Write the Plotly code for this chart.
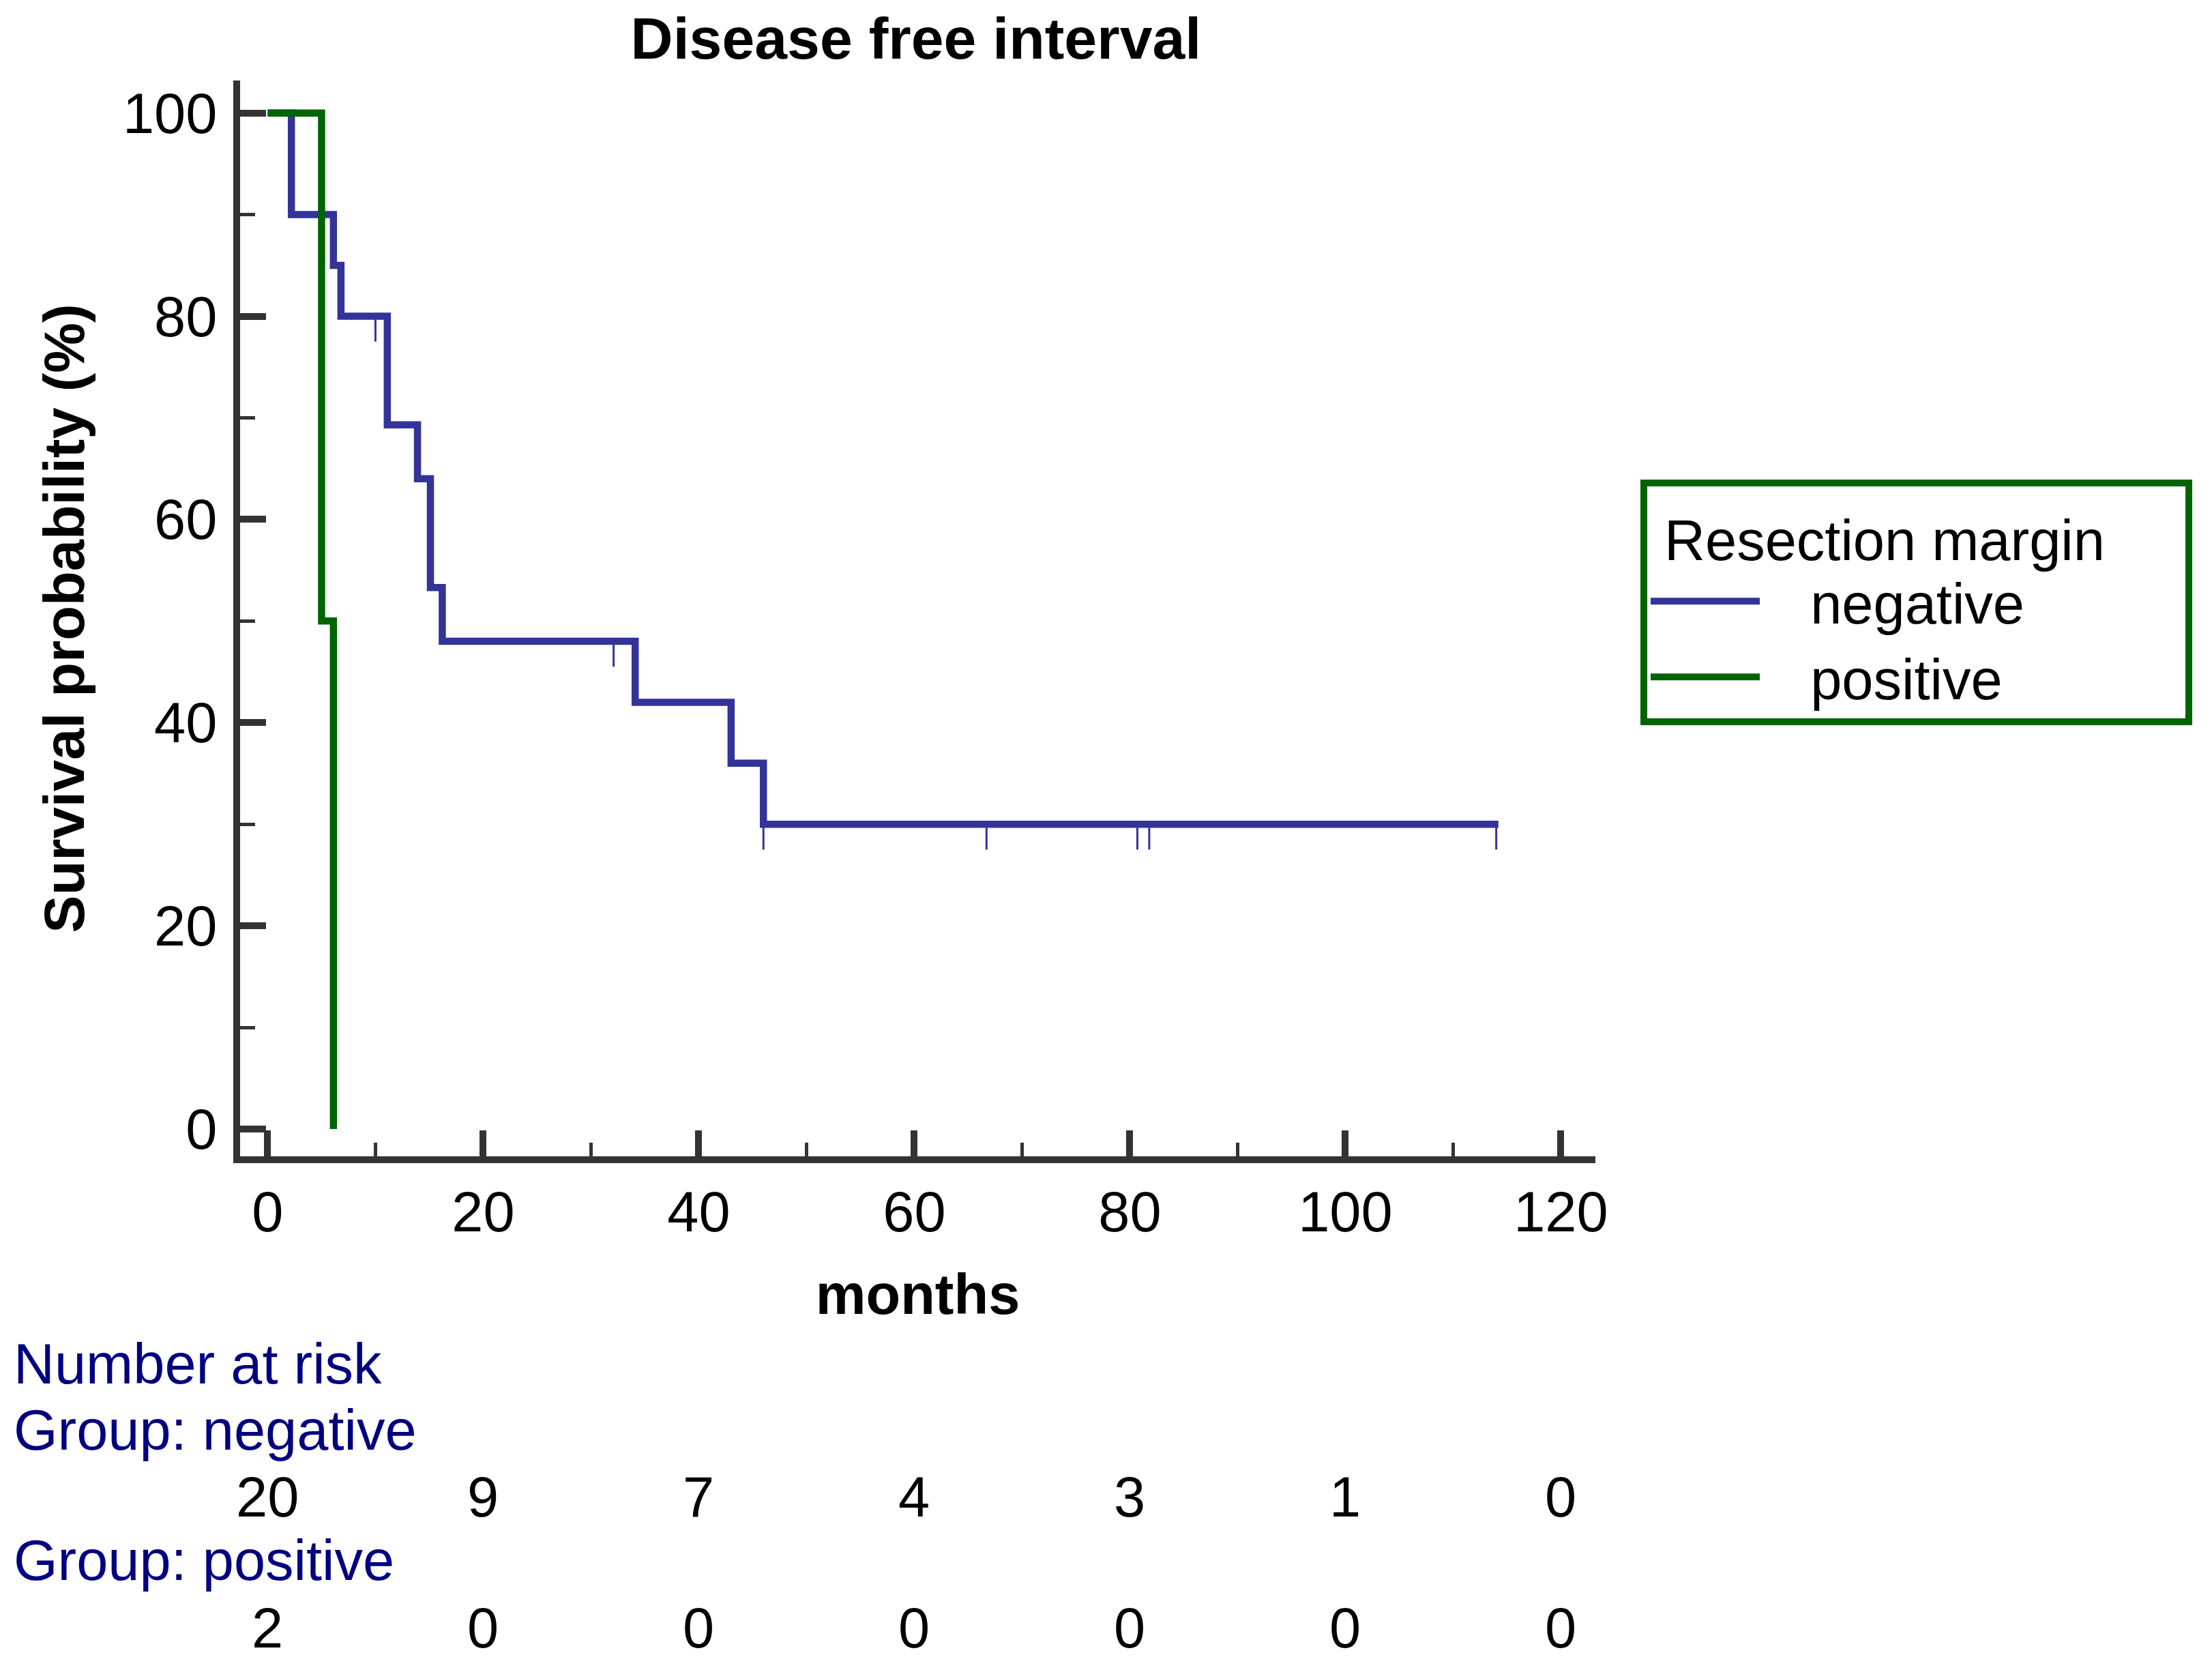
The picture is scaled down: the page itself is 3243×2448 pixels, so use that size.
import plotly.graph_objects as go

# ---------------- data ----------------
month_ticks = [0, 20, 40, 60, 80, 100, 120]
surv_ticks = [0, 20, 40, 60, 80, 100]

neg_time = [0, 2.2, 6.1, 6.8, 11.1, 13.9, 15.1, 16.2, 34.1, 43.0, 46.0, 114.2]
neg_surv = [100, 90, 85, 80, 69.3, 64.0, 53.3, 48.0, 42.0, 36.0, 30.0, 30.0]
neg_cens_time = [10.0, 32.1, 46.0, 66.7, 80.7, 81.8, 114.0]
neg_cens_surv = [80, 48, 30, 30, 30, 30, 30]

pos_time = [0, 5.0, 6.1]
pos_surv = [100, 50, 0]

risk_neg = [20, 9, 7, 4, 3, 1, 0]
risk_pos = [2, 0, 0, 0, 0, 0, 0]

# ---------------- styling ----------------
BLUE = "#333399"
GREEN = "#006400"
NAVY = "#000080"
AX = "#333333"
FONT = "Arial, Liberation Sans, sans-serif"
FS = 83
NB = "\u00a0"

W, H = 3235, 2440
ML, MR, MT, MB = 344, 904, 110, 753
PH = H - MT - MB

fig = go.Figure()

fig.add_trace(go.Scatter(
    x=neg_time, y=neg_surv, mode="lines", line=dict(color=BLUE, width=10.5, shape="hv"),
    name=NB * 3 + "negative"))
fig.add_trace(go.Scatter(
    x=neg_cens_time, y=neg_cens_surv, mode="markers",
    marker=dict(size=1, color="rgba(0,0,0,0)"),
    error_y=dict(type="data", symmetric=False, array=[0] * len(neg_cens_time),
                 arrayminus=[2.5] * len(neg_cens_time), color=BLUE, thickness=3, width=0),
    showlegend=False, hoverinfo="skip"))
fig.add_trace(go.Scatter(
    x=pos_time, y=pos_surv, mode="lines", line=dict(color=GREEN, width=10.5, shape="hv"),
    name=NB * 3 + "positive"))

axis_common = dict(
    showline=True, linewidth=10, linecolor=AX, showgrid=False, zeroline=False,
    ticks="inside", tickcolor=AX, tickfont=dict(family=FONT, size=FS, color="black"),
)

fig.update_xaxes(
    **axis_common, range=[-2.56, 123.2], tickvals=month_ticks,
    ticklen=38, tickwidth=10,
    minor=dict(dtick=10, tick0=0, ticks="inside", ticklen=20, tickwidth=5, tickcolor=AX),
    title=dict(text="months", font=dict(family=FONT, size=FS, color="black", weight="bold"),
               standoff=50),
)
fig.update_yaxes(
    **axis_common, range=[-2.69, 103.2], tickvals=surv_ticks,
    ticklen=38, tickwidth=10, ticklabelstandoff=7,
    minor=dict(dtick=10, tick0=0, ticks="inside", ticklen=22, tickwidth=5, tickcolor=AX),
    title=dict(text="Survival probability (%)",
               font=dict(family=FONT, size=FS, color="black", weight="bold"), standoff=33),
)

# number-at-risk table
def py(page_y):
    return (H + 8 - MB - page_y) / PH

annots = []
for txt, yy in [("Number at risk", 1999), ("Group: negative", 2096), ("Group: positive", 2287)]:
    annots.append(dict(text=txt, xref="paper", yref="paper",
                       x=(10 - ML) / (W - ML - MR), y=py(yy), xanchor="left", yanchor="middle",
                       showarrow=False, font=dict(family=FONT, size=FS, color=NAVY)))
for vals, yy in [(risk_neg, 2194), (risk_pos, 2386)]:
    for m, v in zip(month_ticks, vals):
        annots.append(dict(text=str(v), xref="x", yref="paper", x=m, y=py(yy),
                           xanchor="center", yanchor="middle", showarrow=False,
                           font=dict(family=FONT, size=FS, color="black")))

fig.update_layout(
    width=W, height=H, autosize=False,
    margin=dict(l=ML, r=MR, t=MT, b=MB, pad=0),
    paper_bgcolor="white", plot_bgcolor="white",
    font=dict(family=FONT, size=FS, color="black"),
    title=dict(text="Disease free interval", x=0.4987, xref="paper", xanchor="center",
               y=1 - 48 / H, yref="container", yanchor="middle",
               font=dict(family=FONT, size=86, color="black", weight="bold")),
    showlegend=True,
    legend=dict(
        title=dict(text=NB + "Resection margin" + NB * 5,
                   font=dict(family=FONT, size=FS, color="black")),
        font=dict(family=FONT, size=FS, color="black"),
        bordercolor=GREEN, borderwidth=10, bgcolor="white",
        x=(2397 - ML) / (W - ML - MR), xanchor="left",
        y=1 - (695 - MT) / PH, yanchor="top",
        itemwidth=160, tracegroupgap=0,
    ),
    annotations=annots,
)

fig.write_html("out.html")
